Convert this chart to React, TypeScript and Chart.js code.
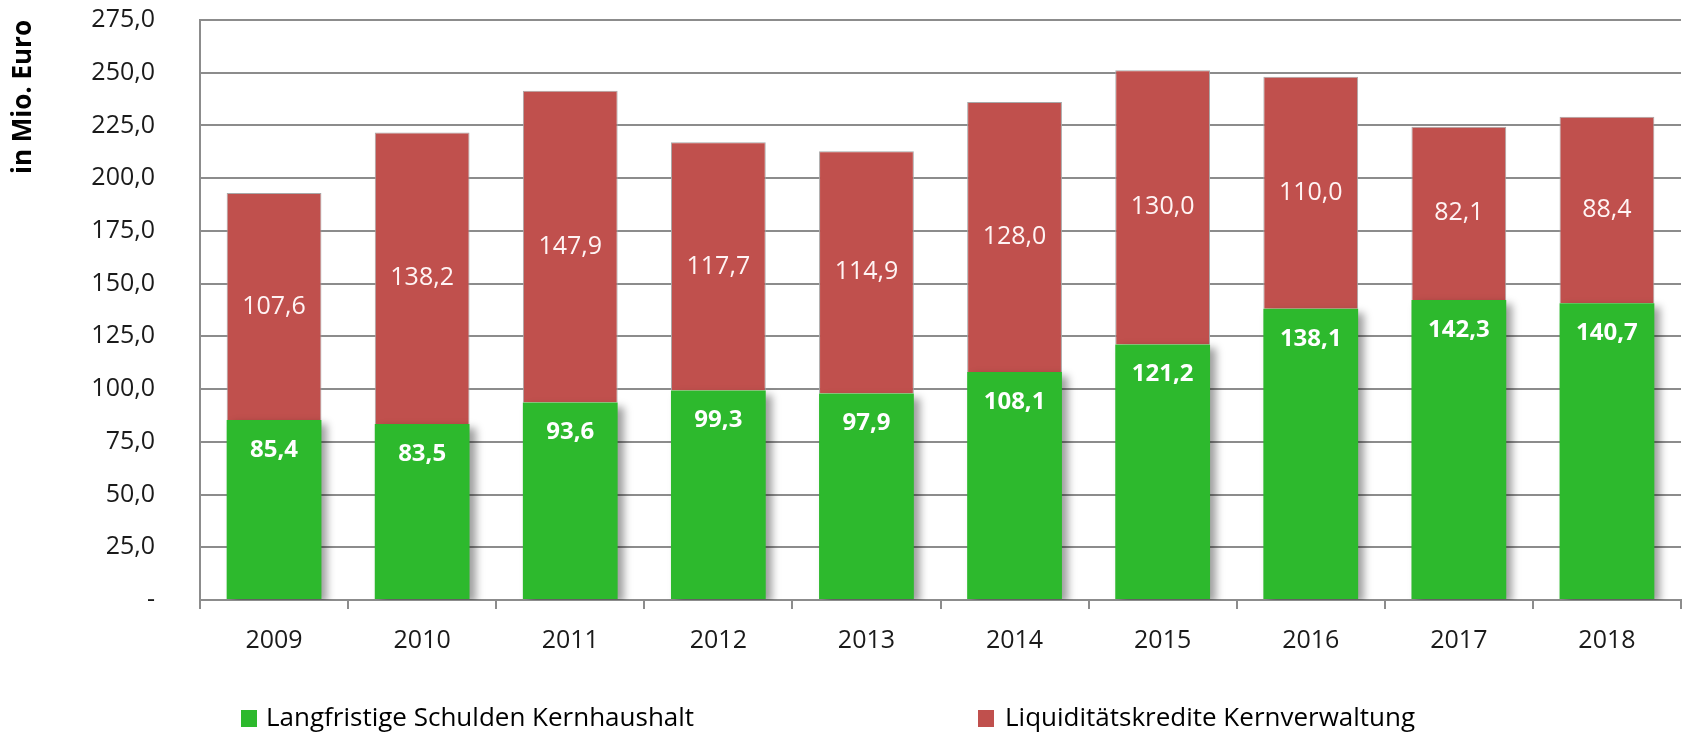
import React, { useEffect, useRef } from "react";
import { Chart, registerables } from "chart.js";

Chart.register(...registerables);

const categories = ["2009", "2010", "2011", "2012", "2013", "2014", "2015", "2016", "2017", "2018"];
const longTermDebt = [85.4, 83.5, 93.6, 99.3, 97.9, 108.1, 121.2, 138.1, 142.3, 140.7];
const liquidityLoans = [107.6, 138.2, 147.9, 117.7, 114.9, 128.0, 130.0, 110.0, 82.1, 88.4];
const seriesLabels = ["Langfristige Schulden Kernhaushalt", "Liquiditätskredite Kernverwaltung"];
const axisTitle = "in Mio. Euro";
const yMax = 275;
const yStep = 25;

const GREEN = "#2DB92D";
const RED = "#C0504D";
const GRID = "#8C8C8C";
const FONT = "'Open Sans', sans-serif";

const fmt = (v: number) => (v === 0 ? "-" : v.toFixed(1).replace(".", ","));

const shadowPlugin = {
  id: "barShadow",
  beforeDatasetDraw(chart: any, args: any) {
    if (args.index !== 0) return;
    const ctx = chart.ctx;
    ctx.save();
    ctx.shadowColor = "rgba(0,0,0,0.38)";
    ctx.shadowBlur = 8;
    ctx.shadowOffsetX = 6;
    ctx.shadowOffsetY = 4;
  },
  afterDatasetDraw(chart: any, args: any) {
    if (args.index !== 0) return;
    chart.ctx.restore();
  },
};

const valueLabelPlugin = {
  id: "valueLabels",
  afterDatasetsDraw(chart: any) {
    const ctx = chart.ctx;
    ctx.save();
    ctx.textAlign = "center";
    ctx.textBaseline = "middle";
    chart.data.datasets.forEach((ds: any, di: number) => {
      const meta = chart.getDatasetMeta(di);
      meta.data.forEach((el: any, i: number) => {
        const v = ds.data[i];
        const txt = fmt(v);
        if (di === 0) {
          ctx.font = `bold 24px ${FONT}`;
          ctx.fillStyle = "#FFFFFF";
          ctx.fillText(txt, el.x, el.y + 30);
        } else {
          ctx.font = `25px ${FONT}`;
          ctx.fillStyle = "#FFF4F4";
          ctx.fillText(txt, el.x, (el.y + el.base) / 2);
        }
      });
    });
    ctx.restore();
  },
};

const legendPlugin = {
  id: "customLegend",
  afterDraw(chart: any) {
    const ctx = chart.ctx;
    const items = [
      { color: GREEN, text: seriesLabels[0], boxX: 241, textX: 266 },
      { color: RED, text: seriesLabels[1], boxX: 978, textX: 1005 },
    ];
    const cy = 719;
    ctx.save();
    ctx.font = `26px ${FONT}`;
    ctx.textBaseline = "middle";
    ctx.textAlign = "left";
    items.forEach((it) => {
      ctx.fillStyle = it.color;
      ctx.fillRect(it.boxX, cy - 9, 16, 17);
      ctx.fillStyle = "#000000";
      ctx.fillText(it.text, it.textX, cy);
    });
    ctx.restore();
  },
};

export default function App() {
  const canvasRef = useRef<HTMLCanvasElement | null>(null);

  useEffect(() => {
    document.body.style.margin = "0";
    const canvas = canvasRef.current;
    if (!canvas) return;
    const chart = new Chart(canvas, {
      type: "bar",
      data: {
        labels: categories,
        datasets: [
          {
            label: seriesLabels[0],
            data: longTermDebt,
            backgroundColor: GREEN,
            borderWidth: 0,
            categoryPercentage: 1,
            barPercentage: 0.64,
          },
          {
            label: seriesLabels[1],
            data: liquidityLoans,
            backgroundColor: RED,
            borderColor: "#A8A8A8",
            borderWidth: 1,
            categoryPercentage: 1,
            barPercentage: 0.64,
          },
        ],
      },
      options: {
        animation: false,
        responsive: true,
        maintainAspectRatio: false,
        layout: { padding: { top: 20, right: 3, left: 0, bottom: 0 } },
        plugins: {
          legend: { display: false },
          tooltip: { enabled: false },
        },
        scales: {
          x: {
            stacked: true,
            grid: {
              offset: true,
              drawOnChartArea: false,
              drawTicks: true,
              tickLength: 9,
              color: GRID,
              lineWidth: 2,
            },
            border: { display: true, color: GRID, width: 2 },
            ticks: {
              font: { family: FONT, size: 25 },
              color: "#1A1A1A",
              padding: 17,
            },
            afterFit: (s: any) => {
              s.height = 134;
            },
          },
          y: {
            stacked: true,
            min: 0,
            max: yMax,
            ticks: {
              stepSize: yStep,
              callback: (v: any) => fmt(Number(v)),
              font: { family: FONT, size: 25 },
              color: "#1A1A1A",
              padding: 45,
            },
            grid: { color: GRID, lineWidth: 2, drawTicks: false },
            border: { display: true, color: GRID, width: 2 },
            title: {
              display: true,
              text: axisTitle,
              align: "end",
              color: "#000000",
              font: { family: FONT, size: 26, weight: "bold" },
              padding: { top: 8, bottom: 0 },
            },
            afterFit: (s: any) => {
              s.width = 200;
              s.paddingTop = 14;
              s.paddingBottom = 14;
            },
          },
        },
      },
      plugins: [shadowPlugin, valueLabelPlugin, legendPlugin],
    });
    return () => chart.destroy();
  }, []);

  return (
    <div style={{ width: "1684px", height: "734px", position: "relative" }}>
      <canvas ref={canvasRef} />
    </div>
  );
}
